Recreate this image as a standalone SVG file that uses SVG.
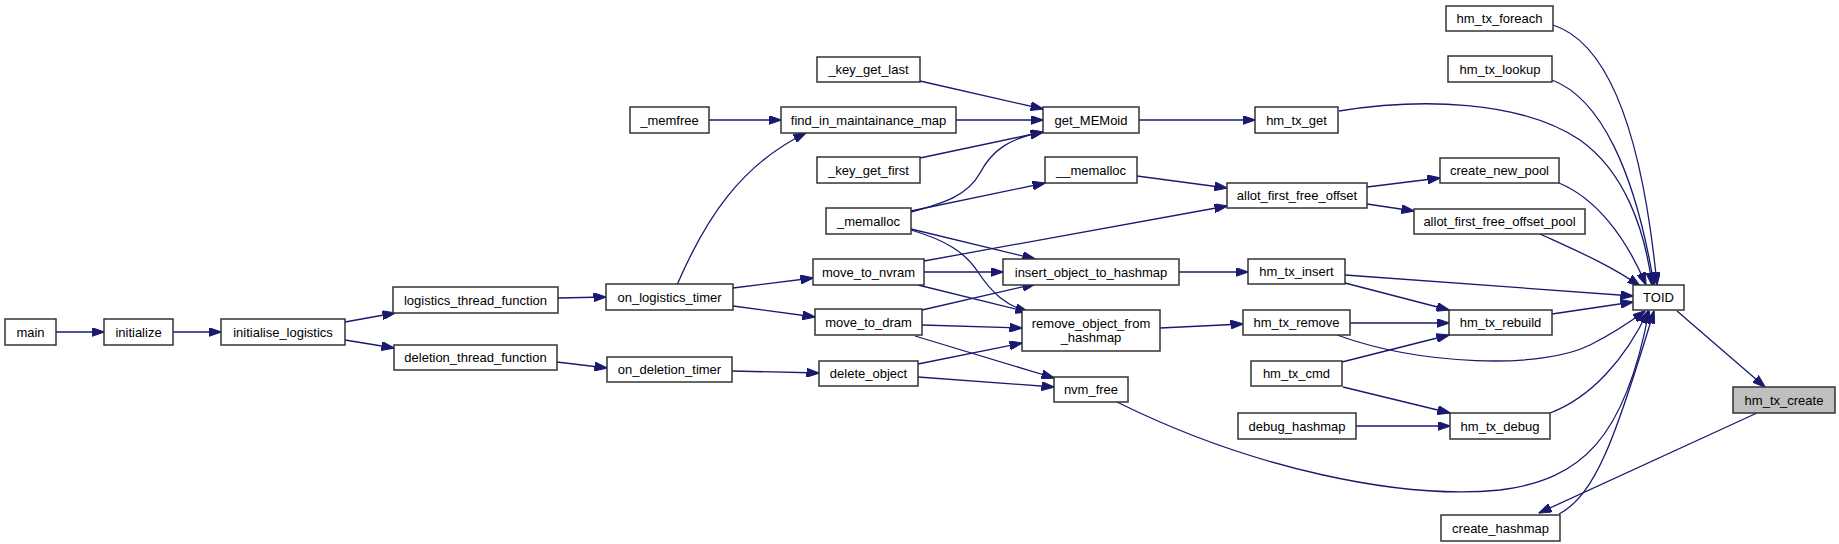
<svg xmlns="http://www.w3.org/2000/svg" width="1839" height="544" viewBox="0 0 1839 544">
<style>
.n rect{fill:#fff;stroke:#333;stroke-width:1.5}
.n.root rect{fill:#bfbfbf}
.n text{font-family:"Liberation Sans",Arial,sans-serif;font-size:13px;fill:#000;text-anchor:middle}
.e path{fill:none;stroke:#191970;stroke-width:1.3;marker-end:url(#ah)}
</style>
<defs>
<marker id="ah" viewBox="0 0 13 9" markerWidth="13" markerHeight="9" refX="12.5" refY="4.5" orient="auto" markerUnits="userSpaceOnUse">
<path d="M0,0 L13,4.5 L0,9 z" fill="#191970" stroke="#191970" stroke-width="1"/>
</marker>
</defs>
<rect width="1839" height="544" fill="#fff"/>
<g id="edges" class="e">
<path d="M56,332 L104,332"/>
<path d="M173,332 L221,332"/>
<path d="M345,322 L395,313"/>
<path d="M345,340 L394,348"/>
<path d="M558,298 L606,297"/>
<path d="M557,362 L607,368"/>
<path d="M677,285 C705,220 740,165 806,133"/>
<path d="M733,288 L813,278"/>
<path d="M733,306 L815,317"/>
<path d="M732,371 L819,373"/>
<path d="M709,120 L781,120"/>
<path d="M956,120 L1043,120"/>
<path d="M920,81 L1043,109"/>
<path d="M920,158 L1043,132"/>
<path d="M911,212 C945,203 968,195 980,173 C992,150 1010,138 1043,132"/>
<path d="M911,211 L1045,183"/>
<path d="M911,229 L1035,259"/>
<path d="M911,230 C945,240 965,252 978,272 C992,293 1005,305 1028,312"/>
<path d="M924,261 L1227,206"/>
<path d="M924,272 L1003,272"/>
<path d="M918,285 L1028,312"/>
<path d="M922,310 L1035,284"/>
<path d="M922,325 L1022,328"/>
<path d="M915,336 L1054,378"/>
<path d="M918,364 L1022,343"/>
<path d="M918,377 L1054,387"/>
<path d="M1139,120 L1255,120"/>
<path d="M1137,176 L1227,188"/>
<path d="M1179,272 L1248,272"/>
<path d="M1160,328 L1243,324"/>
<path d="M1117,402 C1250,468 1400,500 1500,490 C1580,480 1625,440 1649,311"/>
<path d="M1367,187 L1440,178"/>
<path d="M1367,204 L1414,211"/>
<path d="M1339,111 C1420,98 1520,100 1580,140 C1625,172 1645,230 1652,285"/>
<path d="M1553,25 C1600,40 1640,110 1657,285"/>
<path d="M1552,80 C1600,98 1635,170 1654,285"/>
<path d="M1559,183 C1595,198 1625,235 1646,285"/>
<path d="M1540,234 C1575,250 1610,265 1640,286"/>
<path d="M1345,275 L1633,296"/>
<path d="M1345,283 L1449,310"/>
<path d="M1350,323 L1449,323"/>
<path d="M1337,335 C1420,365 1540,370 1590,345 C1612,334 1630,322 1645,311"/>
<path d="M1342,362 L1449,335"/>
<path d="M1343,387 L1450,413"/>
<path d="M1356,426 L1450,426"/>
<path d="M1552,314 L1633,302"/>
<path d="M1550,413 C1590,398 1625,360 1648,311"/>
<path d="M1559,514 C1595,495 1615,440 1654,311"/>
<path d="M1677,311 L1765,387"/>
<path d="M1757,413 L1539,513"/>
</g>
<g id="main" class="n"><rect x="5" y="319" width="51" height="26"/><text x="30.5" y="336.5">main</text></g>
<g id="initialize" class="n"><rect x="104" y="319" width="69" height="26"/><text x="138.5" y="336.5">initialize</text></g>
<g id="initialise_logistics" class="n"><rect x="221" y="319" width="124" height="26"/><text x="283" y="336.5">initialise_logistics</text></g>
<g id="logistics_thread_function" class="n"><rect x="393" y="287" width="165" height="26"/><text x="475.5" y="304.5">logistics_thread_function</text></g>
<g id="deletion_thread_function" class="n"><rect x="394" y="345" width="163" height="25"/><text x="475.5" y="362">deletion_thread_function</text></g>
<g id="on_logistics_timer" class="n"><rect x="606" y="284" width="127" height="26"/><text x="669.5" y="301.5">on_logistics_timer</text></g>
<g id="on_deletion_timer" class="n"><rect x="607" y="357" width="125" height="25"/><text x="669.5" y="374">on_deletion_timer</text></g>
<g id="_memfree" class="n"><rect x="630" y="107" width="79" height="26"/><text x="669.5" y="124.5">_memfree</text></g>
<g id="find_in_maintainance_map" class="n"><rect x="781" y="107" width="175" height="26"/><text x="868.5" y="124.5">find_in_maintainance_map</text></g>
<g id="_key_get_last" class="n"><rect x="817" y="57" width="103" height="25"/><text x="868.5" y="74">_key_get_last</text></g>
<g id="_key_get_first" class="n"><rect x="817" y="157" width="103" height="26"/><text x="868.5" y="174.5">_key_get_first</text></g>
<g id="_memalloc" class="n"><rect x="826" y="208" width="85" height="26"/><text x="868.5" y="225.5">_memalloc</text></g>
<g id="move_to_nvram" class="n"><rect x="813" y="259" width="111" height="26"/><text x="868.5" y="276.5">move_to_nvram</text></g>
<g id="move_to_dram" class="n"><rect x="815" y="309" width="107" height="26"/><text x="868.5" y="326.5">move_to_dram</text></g>
<g id="delete_object" class="n"><rect x="819" y="361" width="99" height="25"/><text x="868.5" y="378">delete_object</text></g>
<g id="get_MEMoid" class="n"><rect x="1043" y="107" width="96" height="26"/><text x="1091" y="124.5">get_MEMoid</text></g>
<g id="__memalloc" class="n"><rect x="1045" y="157" width="92" height="26"/><text x="1091" y="174.5">__memalloc</text></g>
<g id="insert_object_to_hashmap" class="n"><rect x="1003" y="259" width="176" height="26"/><text x="1091" y="276.5">insert_object_to_hashmap</text></g>
<g id="remove_object_from_hashmap" class="n"><rect x="1022" y="310" width="138" height="41"/><text x="1091" y="327.5">remove_object_from</text><text x="1091" y="341.5">_hashmap</text></g>
<g id="nvm_free" class="n"><rect x="1054" y="377" width="74" height="25"/><text x="1091" y="394">nvm_free</text></g>
<g id="hm_tx_get" class="n"><rect x="1255" y="107" width="83" height="26"/><text x="1296.5" y="124.5">hm_tx_get</text></g>
<g id="allot_first_free_offset" class="n"><rect x="1227" y="183" width="140" height="25"/><text x="1297" y="200">allot_first_free_offset</text></g>
<g id="hm_tx_insert" class="n"><rect x="1248" y="259" width="97" height="25"/><text x="1296.5" y="276">hm_tx_insert</text></g>
<g id="hm_tx_remove" class="n"><rect x="1243" y="310" width="107" height="25"/><text x="1296.5" y="327">hm_tx_remove</text></g>
<g id="hm_tx_cmd" class="n"><rect x="1251" y="361" width="91" height="25"/><text x="1296.5" y="378">hm_tx_cmd</text></g>
<g id="debug_hashmap" class="n"><rect x="1238" y="413" width="118" height="26"/><text x="1297" y="430.5">debug_hashmap</text></g>
<g id="hm_tx_foreach" class="n"><rect x="1446" y="6" width="107" height="25"/><text x="1499.5" y="23">hm_tx_foreach</text></g>
<g id="hm_tx_lookup" class="n"><rect x="1448" y="56" width="104" height="26"/><text x="1500" y="73.5">hm_tx_lookup</text></g>
<g id="create_new_pool" class="n"><rect x="1440" y="158" width="119" height="25"/><text x="1499.5" y="175">create_new_pool</text></g>
<g id="allot_first_free_offset_pool" class="n"><rect x="1414" y="209" width="171" height="25"/><text x="1499.5" y="226">allot_first_free_offset_pool</text></g>
<g id="hm_tx_rebuild" class="n"><rect x="1449" y="310" width="103" height="25"/><text x="1500.5" y="327">hm_tx_rebuild</text></g>
<g id="hm_tx_debug" class="n"><rect x="1450" y="413" width="100" height="26"/><text x="1500" y="430.5">hm_tx_debug</text></g>
<g id="create_hashmap" class="n"><rect x="1441" y="515" width="119" height="26"/><text x="1500.5" y="532.5">create_hashmap</text></g>
<g id="TOID" class="n"><rect x="1633" y="285" width="51" height="25"/><text x="1658.5" y="302">TOID</text></g>
<g id="hm_tx_create" class="n root"><rect x="1733" y="387" width="102" height="26"/><text x="1784" y="404.5">hm_tx_create</text></g>
</svg>
